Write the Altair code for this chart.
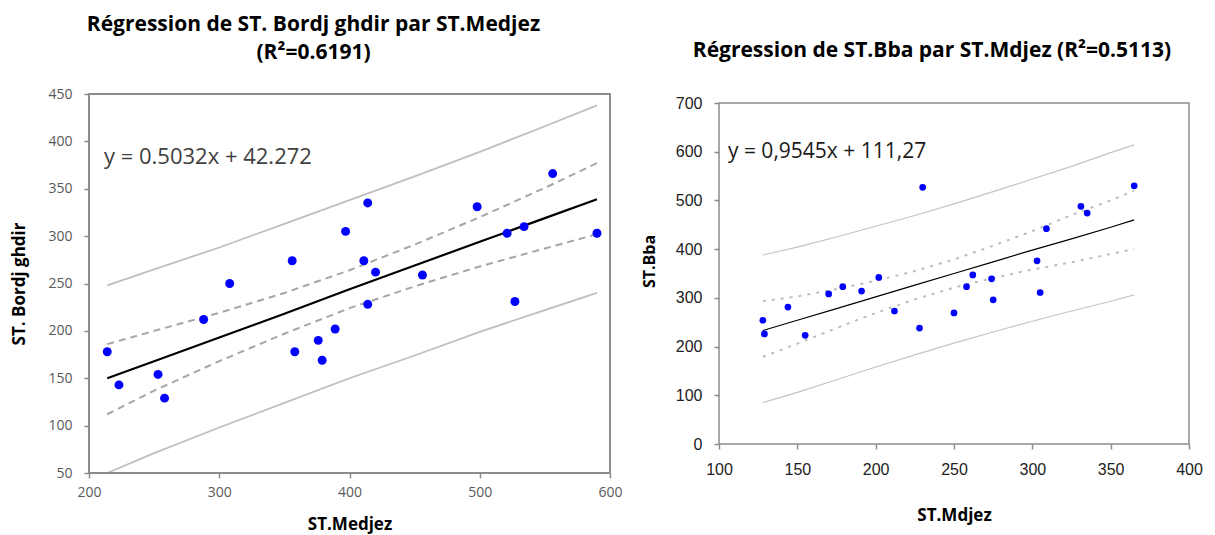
import altair as alt
import pandas as pd

# ---------------- Left panel data (ST.Medjez vs ST. Bordj ghdir) ----------------
left_x = [214, 223, 253, 258, 288, 308, 356, 358, 376, 379, 389, 397, 411, 414, 414, 420, 456, 498, 521, 527, 534, 556, 590]
left_y = [178, 143, 154, 129, 212, 250, 274, 178, 190, 169, 202, 305, 274, 335, 228, 262, 259, 331, 303, 231, 310, 366, 303]

left_band_x = [214, 250, 300, 350, 400, 450, 500, 550, 590]
left_fit = [150, 168, 193, 218, 244, 269, 294, 319, 339]
left_conf_up = [186, 200, 219, 240, 264, 291, 320, 351, 377]
left_conf_lo = [112, 137, 168, 197, 224, 247, 268, 287, 302]
left_pred_up = [248, 265, 288, 313, 338, 363, 389, 416, 438]
left_pred_lo = [50, 71, 98, 124, 150, 174, 199, 222, 240]

left_x_ticks = [200, 300, 400, 500, 600]
left_y_ticks = [50, 100, 150, 200, 250, 300, 350, 400, 450]

# ---------------- Right panel data (ST.Mdjez vs ST.Bba) ----------------
right_x = [230, 365, 331, 335, 309, 303, 305, 274, 275, 262, 258, 250, 212, 202, 191, 179, 170, 144, 128, 129, 155, 228]
right_y = [527, 530, 488, 474, 442, 376, 311, 339, 296, 347, 323, 269, 273, 342, 314, 323, 308, 281, 254, 226, 223, 238]

right_band_x = [128, 150, 175, 200, 225, 250, 275, 300, 325, 350, 365]
right_fit = [233, 254, 278, 302, 326, 350, 374, 398, 421, 445, 460]
right_conf_up = [293, 303, 318, 335, 355, 379, 407, 437, 470, 500, 520]
right_conf_lo = [179, 206, 238, 269, 297, 321, 341, 358, 373, 390, 400]
right_pred_up = [388, 404, 425, 447, 469, 493, 518, 544, 570, 598, 614]
right_pred_lo = [85, 106, 132, 158, 183, 207, 230, 252, 273, 293, 306]

right_x_ticks = [100, 150, 200, 250, 300, 350, 400]
right_y_ticks = [0, 100, 200, 300, 400, 500, 600, 700]

TITLE_FONT = "Open Sans"
FRAME = "#8C8C8C"


def band_df(xs, up, lo):
    rows = []
    for x, v in zip(xs, up):
        rows.append({"x": x, "y": v, "side": "up"})
    for x, v in zip(xs, lo):
        rows.append({"x": x, "y": v, "side": "lo"})
    return pd.DataFrame(rows)


# ================= LEFT CHART =================
lx = alt.X("x:Q", scale=alt.Scale(domain=[200, 600], nice=False, zero=False),
           axis=alt.Axis(values=left_x_ticks, domain=False, grid=False, tickColor=FRAME,
                         tickWidth=1.5, tickSize=5, labelFont="Open Sans", labelFontSize=14,
                         labelColor="#595959", labelPadding=7, labelFlush=False,
                         title="ST.Medjez",
                         titleFont=TITLE_FONT, titleFontSize=17, titleFontWeight="bold",
                         titleColor="black", titleY=51, titleBaseline="middle"))
ly = alt.Y("y:Q", scale=alt.Scale(domain=[50, 450], nice=False, zero=False),
           axis=alt.Axis(values=left_y_ticks, domain=False, grid=False, tickColor=FRAME,
                         tickWidth=1.5, tickSize=5, labelFont="Open Sans", labelFontSize=14,
                         labelColor="#595959", labelPadding=12, labelFlush=False,
                         title="ST. Bordj ghdir",
                         titleFont=TITLE_FONT, titleFontSize=17, titleFontWeight="bold",
                         titleColor="black", titleAngle=270, titleX=-70, titleY=189.5,
                         titleAlign="center", titleBaseline="middle"))

left_pts = pd.DataFrame({"x": left_x, "y": left_y})
left_fit_df = pd.DataFrame({"x": left_band_x, "y": left_fit})

l_frame = alt.Chart(pd.DataFrame({"a": [0]})).mark_rect(
    fillOpacity=0, stroke=FRAME, strokeWidth=2).encode(
    x=alt.datum(200), x2=alt.datum(600), y=alt.datum(50), y2=alt.datum(450))

l_pred = alt.Chart(band_df(left_band_x, left_pred_up, left_pred_lo)).mark_line(
    color="#BFBFBF", strokeWidth=1.8).encode(x=lx, y=ly, detail="side:N")
l_conf = alt.Chart(band_df(left_band_x, left_conf_up, left_conf_lo)).mark_line(
    color="#A6A6A6", strokeWidth=2, strokeDash=[7, 5]).encode(x=lx, y=ly, detail="side:N")
l_fit = alt.Chart(left_fit_df).mark_line(color="black", strokeWidth=2.2).encode(x=lx, y=ly)
l_points = alt.Chart(left_pts).mark_circle(color="#0000FF", opacity=1, size=80).encode(x=lx, y=ly)
l_text = alt.Chart(pd.DataFrame({"a": [0]})).mark_text(
    align="left", baseline="middle", font="Open Sans", fontSize=22, color="#404040").encode(
    x=alt.datum(211.5), y=alt.datum(383.5), text=alt.value("y = 0.5032x + 42.272"))

left = alt.layer(l_pred, l_conf, l_fit, l_points, l_text, l_frame).properties(
    width=521, height=379,
    title=alt.TitleParams(text=["Régression de ST. Bordj ghdir par ST.Medjez", "(R²=0.6191)"],
                          font=TITLE_FONT, fontSize=21, fontWeight="bold", color="black",
                          offset=24.5, dx=-36, lineHeight=28, anchor="middle"))

# ================= RIGHT CHART =================
R_DOMAIN_TOP = 700 * 350 / 341  # frame (0..700) sits 9 px under the plot top
rx = alt.X("x:Q", scale=alt.Scale(domain=[100, 400], nice=False, zero=False),
           axis=alt.Axis(values=right_x_ticks, domain=False, grid=False, tickColor=FRAME,
                         tickWidth=1.5, tickSize=5, labelFont="Liberation Sans", labelFontSize=16,
                         labelColor="#222222", labelPadding=12, labelFlush=False,
                         title="ST.Mdjez",
                         titleFont=TITLE_FONT, titleFontSize=17, titleFontWeight="bold",
                         titleColor="black", titleY=71, titleBaseline="middle"))
ry = alt.Y("y:Q", scale=alt.Scale(domain=[0, R_DOMAIN_TOP], nice=False, zero=True),
           axis=alt.Axis(values=right_y_ticks, domain=False, grid=False, tickColor=FRAME,
                         tickWidth=1.5, tickSize=5, labelFont="Liberation Sans", labelFontSize=16,
                         labelColor="#222222", labelPadding=12, labelFlush=False,
                         title="ST.Bba",
                         titleFont=TITLE_FONT, titleFontSize=16, titleFontWeight="bold",
                         titleColor="black", titleAngle=270, titleX=-70, titleY=167,
                         titleAlign="center", titleBaseline="middle"))

right_pts = pd.DataFrame({"x": right_x, "y": right_y})
right_fit_df = pd.DataFrame({"x": right_band_x, "y": right_fit})

r_frame = alt.Chart(pd.DataFrame({"a": [0]})).mark_rect(
    fillOpacity=0, stroke=FRAME, strokeWidth=1.5).encode(
    x=alt.datum(100), x2=alt.datum(400), y=alt.datum(0), y2=alt.datum(700))
r_pred = alt.Chart(band_df(right_band_x, right_pred_up, right_pred_lo)).mark_line(
    color="#C4C4C4", strokeWidth=1.2).encode(x=rx, y=ry, detail="side:N")
r_conf = alt.Chart(band_df(right_band_x, right_conf_up, right_conf_lo)).mark_line(
    color="#BDBDBD", strokeWidth=2, strokeDash=[3, 6]).encode(x=rx, y=ry, detail="side:N")
r_fit = alt.Chart(right_fit_df).mark_line(color="black", strokeWidth=1.2).encode(x=rx, y=ry)
r_points = alt.Chart(right_pts).mark_circle(color="#0000FF", opacity=1, size=45).encode(x=rx, y=ry)
r_text = alt.Chart(pd.DataFrame({"a": [0]})).mark_text(
    align="left", baseline="middle", font="Open Sans", fontSize=21, color="#1a1a1a").encode(
    x=alt.datum(105.7), y=alt.datum(599.4), text=alt.value("y = 0,9545x + 111,27"))

right = alt.layer(r_pred, r_conf, r_fit, r_points, r_text, r_frame).properties(
    width=470, height=350,
    title=alt.TitleParams(text="Régression de ST.Bba par ST.Mdjez (R²=0.5113)",
                          font=TITLE_FONT, fontSize=21, fontWeight="bold", color="black",
                          offset=33.5, dx=-22, anchor="middle"))

chart = alt.hconcat(left, right, spacing=17).properties(
    padding={"left": 9, "top": 13, "right": 5, "bottom": 2},
    background="white",
).configure_view(stroke="transparent")

chart.save("out.html", embed_options={"renderer": "svg", "actions": False})
